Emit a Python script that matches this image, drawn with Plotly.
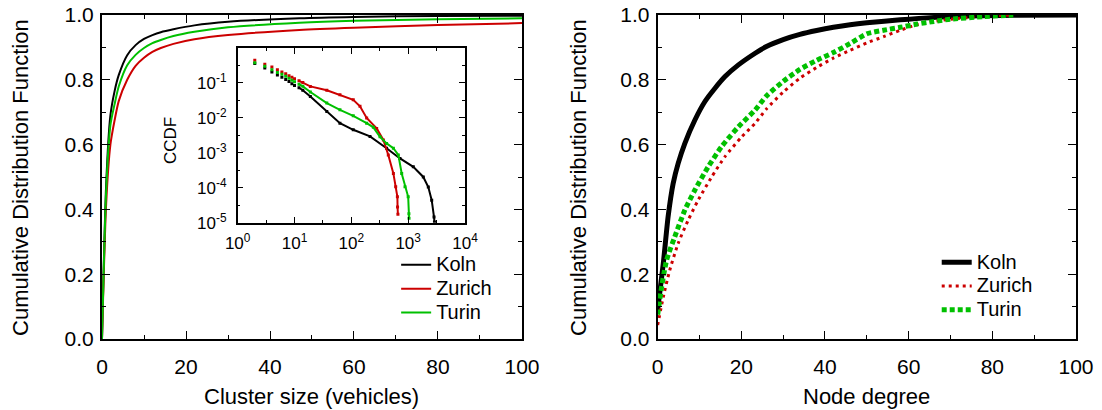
import plotly.graph_objects as go

# ---------------- data: left main panel (CDF of cluster size) ----------------
cluster_size = [0, 1, 2, 3, 4, 6, 8, 10, 12, 14, 17, 22, 30, 47, 60, 80, 100]
koln_cluster_cdf = [0, 0.48, 0.69, 0.765, 0.815, 0.876, 0.907, 0.926, 0.938, 0.947, 0.956, 0.968,
                    0.979, 0.99, 0.994, 0.997, 0.998]
zurich_cluster_cdf = [0, 0.42, 0.60, 0.675, 0.735, 0.80, 0.843, 0.868, 0.886, 0.898, 0.911, 0.925,
                      0.938, 0.954, 0.961, 0.969, 0.975]
turin_cluster_cdf = [0, 0.46, 0.66, 0.725, 0.78, 0.845, 0.877, 0.898, 0.913, 0.923, 0.935, 0.948,
                     0.962, 0.976, 0.982, 0.987, 0.99]

# ---------------- data: inset (CCDF, log-log) ----------------
ccdf_dot_size = [2, 3, 4, 5, 6, 7, 8, 9, 10]
koln_ccdf_dots = [0.36, 0.27, 0.207, 0.17, 0.145, 0.125, 0.11, 0.095, 0.085]
zurich_ccdf_dots = [0.447, 0.343, 0.288, 0.241, 0.207, 0.185, 0.162, 0.145, 0.133]
turin_ccdf_dots = [0.377, 0.30, 0.24, 0.20, 0.177, 0.155, 0.136, 0.12, 0.109]

koln_tail_size = [12, 14, 19, 37, 63, 108, 213, 417, 718, 1230, 1845, 2260, 2594, 2850, 2900]
koln_tail_ccdf = [0.073, 0.062, 0.0412, 0.01524, 0.00708, 0.00457, 0.00295, 0.00135, 6.9e-4,
                  3.98e-4, 2.04e-4, 1.05e-4, 4.4e-5, 1.45e-5, 1.05e-5]
zurich_tail_size = [12, 14, 19, 37, 63, 108, 142, 186, 279, 366, 447, 549, 603, 646, 650, 660]
zurich_tail_ccdf = [0.115, 0.103, 0.0798, 0.0617, 0.046, 0.0331, 0.0214, 0.01, 0.005, 0.00234,
                    8.7e-4, 2.57e-4, 1.06e-4, 5.5e-5, 2.8e-5, 1.74e-5]
turin_tail_size = [12, 14, 19, 37, 63, 108, 186, 244, 319, 417, 549, 671, 769, 879, 1000, 1030, 1035]
turin_tail_ccdf = [0.092, 0.08, 0.055, 0.0265, 0.017, 0.0115, 0.00708, 0.00537, 0.00288, 0.00186,
                   0.00135, 8.7e-4, 2.57e-4, 1.06e-4, 5.5e-5, 1.8e-5, 1.35e-5]

# ---------------- data: right panel (CDF of node degree) ----------------
koln_degree = [0, 1.35, 2.5, 3.7, 4.9, 6.5, 8.9, 11.3, 13.7, 16.1, 19.3, 23.3, 26, 30, 34, 38, 42,
               46, 50, 58, 70, 85, 100]
koln_degree_cdf = [0.09, 0.234, 0.378, 0.48, 0.542, 0.604, 0.676, 0.733, 0.774, 0.81, 0.846, 0.882,
                   0.903, 0.924, 0.94, 0.952, 0.962, 0.97, 0.976, 0.985, 0.995, 0.999, 1.0]
zurich_degree = [0, 1.35, 2.9, 4.9, 7.3, 9.7, 12.9, 16.1, 20.1, 23.3, 26, 30, 34, 38, 42, 46, 50,
                 54, 58, 62, 66, 70, 78, 85]
zurich_degree_cdf = [0.043, 0.13, 0.213, 0.295, 0.367, 0.429, 0.50, 0.563, 0.624, 0.666, 0.71, 0.762,
                     0.805, 0.838, 0.867, 0.891, 0.914, 0.933, 0.953, 0.97, 0.98, 0.987, 0.996, 1.0]
turin_degree = [0, 0.95, 2.15, 4.1, 6.5, 8.9, 12.1, 15.3, 19.3, 23.3, 26, 30, 34, 38, 42, 46, 50,
                54, 58, 62, 66, 70, 78, 85]
turin_degree_cdf = [0.075, 0.161, 0.244, 0.316, 0.398, 0.46, 0.532, 0.594, 0.655, 0.707, 0.75, 0.795,
                    0.832, 0.86, 0.884, 0.912, 0.942, 0.953, 0.962, 0.972, 0.98, 0.987, 0.995, 1.0]

series_names = ["Koln", "Zurich", "Turin"]
log_tick_vals_x = [1, 10, 100, 1000, 10000]
log_tick_text_x = ["10<sup>0</sup>", "10<sup>1</sup>", "10<sup>2</sup>", "10<sup>3</sup>", "10<sup>4</sup>"]
log_tick_vals_y = [1e-5, 1e-4, 1e-3, 1e-2, 1e-1]
log_tick_text_y = ["10<sup>-5</sup>", "10<sup>-4</sup>", "10<sup>-3</sup>", "10<sup>-2</sup>", "10<sup>-1</sup>"]

BLACK = "#000000"
RED = "#cc0000"
GREEN = "#00c000"
FONT = "Liberation Sans, Arial, Helvetica, sans-serif"


def legend_label(name):
    return "<span style='font-size:20px'>" + name + "</span>"


fig = go.Figure()

# left main panel
for name, ys, col in zip(series_names,
                         [koln_cluster_cdf, zurich_cluster_cdf, turin_cluster_cdf],
                         [BLACK, RED, GREEN]):
    fig.add_trace(go.Scatter(x=cluster_size, y=ys, mode="lines", name=legend_label(name),
                             line=dict(color=col, width=2, shape="spline", smoothing=0.7),
                             xaxis="x", yaxis="y", legend="legend"))

# inset
for ds, dy, ts, ty, col in [(ccdf_dot_size, koln_ccdf_dots, koln_tail_size, koln_tail_ccdf, BLACK),
                            (ccdf_dot_size, zurich_ccdf_dots, zurich_tail_size, zurich_tail_ccdf, RED),
                            (ccdf_dot_size, turin_ccdf_dots, turin_tail_size, turin_tail_ccdf, GREEN)]:
    fig.add_trace(go.Scatter(x=ds, y=dy, mode="markers", showlegend=False,
                             marker=dict(color=col, size=3, symbol="square", line=dict(width=0)),
                             xaxis="x3", yaxis="y3"))
    fig.add_trace(go.Scatter(x=ts, y=ty, mode="lines+markers", showlegend=False,
                             line=dict(color=col, width=2),
                             marker=dict(color=col, size=3, symbol="square", line=dict(width=0)),
                             xaxis="x3", yaxis="y3"))

# right panel
fig.add_trace(go.Scatter(x=koln_degree, y=koln_degree_cdf, mode="lines", name=legend_label("Koln"),
                         line=dict(color=BLACK, width=5, shape="spline", smoothing=0.6),
                         xaxis="x2", yaxis="y2", legend="legend2"))
fig.add_trace(go.Scatter(x=zurich_degree, y=zurich_degree_cdf, mode="lines", name=legend_label("Zurich"),
                         line=dict(color=RED, width=3, dash="3px,4px", shape="spline", smoothing=0.6),
                         xaxis="x2", yaxis="y2", legend="legend2"))
fig.add_trace(go.Scatter(x=turin_degree, y=turin_degree_cdf, mode="lines", name=legend_label("Turin"),
                         line=dict(color=GREEN, width=5, dash="5px,3px", shape="spline", smoothing=0.6),
                         xaxis="x2", yaxis="y2", legend="legend2"))

tickfont = dict(family=FONT, size=21, color="black")
lin_x = dict(range=[0, 100], dtick=20, tick0=0, ticks="inside", ticklen=8, tickwidth=1, tickcolor="black",
             showline=True, linewidth=2, linecolor="black", mirror="ticks", showgrid=False, zeroline=False,
             automargin=False,
             minor=dict(dtick=10, ticks="inside", ticklen=4, tickcolor="black", showgrid=False),
             tickfont=tickfont, ticklabelstandoff=8)
lin_y = dict(range=[0, 1], dtick=0.2, tick0=0, tickformat=".1f", ticks="inside", ticklen=8, tickwidth=1,
             tickcolor="black", showline=True, linewidth=2, linecolor="black", mirror="ticks",
             showgrid=False, zeroline=False, automargin=False,
             minor=dict(dtick=0.1, ticks="inside", ticklen=4, tickcolor="black", showgrid=False),
             tickfont=tickfont, ticklabelstandoff=2)

inset_font = dict(family=FONT, size=17, color="black")
fig.update_layout(
    width=1102, height=410,
    margin=dict(l=102, r=26, t=15, b=71, autoexpand=False),
    paper_bgcolor="white", plot_bgcolor="white",
    font=dict(family=FONT, color="black"),
    xaxis=dict(domain=[0, 0.4312], anchor="y", **lin_x),
    yaxis=dict(domain=[0, 1], anchor="x", **lin_y),
    xaxis2=dict(domain=[0.5705, 1.0], anchor="y2", **lin_x),
    yaxis2=dict(domain=[0, 1], anchor="x2", **lin_y),
    xaxis3=dict(domain=[0.1393, 0.3727], anchor="y3", type="log", range=[0, 4],
                tickvals=log_tick_vals_x, ticktext=log_tick_text_x, ticks="inside", ticklen=6,
                tickcolor="black", showline=True, linewidth=1.5, linecolor="black", mirror="ticks",
                showgrid=False, zeroline=False, automargin=False, tickfont=inset_font, ticklabelstandoff=4,
                minor=dict(tickvals=[10 ** (k + 0.5) for k in range(4)], ticks="inside", ticklen=3,
                           tickcolor="black", showgrid=False)),
    yaxis3=dict(domain=[0.359, 0.898], anchor="x3", type="log", range=[-5, 0],
                tickvals=log_tick_vals_y, ticktext=log_tick_text_y, ticks="inside", ticklen=6,
                tickcolor="black", showline=True, linewidth=1.5, linecolor="black", mirror="ticks",
                showgrid=False, zeroline=False, automargin=False, tickfont=inset_font, ticklabelstandoff=6,
                minor=dict(tickvals=[10 ** (-k - 0.5) for k in range(5)], ticks="inside", ticklen=3,
                           tickcolor="black", showgrid=False)),
    legend=dict(x=0.302, y=0.281, xanchor="left", yanchor="top", bgcolor="rgba(0,0,0,0)",
                font=dict(family=FONT, size=16, color="black"), itemwidth=30, tracegroupgap=0),
    legend2=dict(x=0.857, y=0.289, xanchor="left", yanchor="top", bgcolor="rgba(0,0,0,0)",
                 font=dict(family=FONT, size=16, color="black"), itemwidth=30, tracegroupgap=0),
    showlegend=True,
    annotations=[
        dict(text="Cumulative Distribution Function", xref="paper", yref="paper", x=-0.0842, y=0.5,
             xanchor="center", yanchor="middle", textangle=-90, showarrow=False,
             font=dict(family=FONT, size=22, color="black")),
        dict(text="Cluster size (vehicles)", xref="paper", yref="paper", x=0.2156, y=-0.179,
             xanchor="center", yanchor="middle", showarrow=False,
             font=dict(family=FONT, size=22, color="black")),
        dict(text="Cumulative Distribution Function", xref="paper", yref="paper", x=0.4887, y=0.5,
             xanchor="center", yanchor="middle", textangle=-90, showarrow=False,
             font=dict(family=FONT, size=22, color="black")),
        dict(text="Node degree", xref="paper", yref="paper", x=0.7853, y=-0.179,
             xanchor="center", yanchor="middle", showarrow=False,
             font=dict(family=FONT, size=22, color="black")),
        dict(text="CCDF", xref="paper", yref="paper", x=0.0698, y=0.614,
             xanchor="center", yanchor="middle", textangle=-90, showarrow=False,
             font=dict(family=FONT, size=17, color="black")),
    ],
)

fig.write_html("out.html", config={"displayModeBar": False},
               post_script="document.body.style.margin='0px';")
